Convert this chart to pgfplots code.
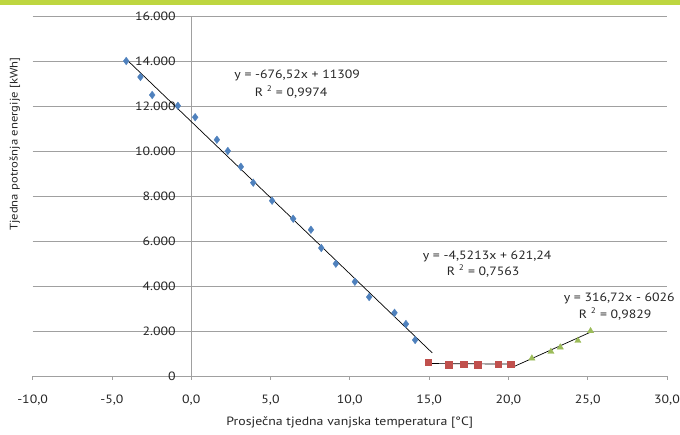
\documentclass[border=0pt]{standalone}
\usepackage{pgfplots}
\pgfplotsset{compat=1.18}
\usepackage{fontspec}
\setmainfont{PT Sans}[FakeStretch=1.15]
\definecolor{topgreen}{RGB}{190,214,64}
\definecolor{xblue}{RGB}{79,129,189}
\definecolor{xred}{RGB}{192,80,77}
\definecolor{xgreen}{RGB}{155,187,89}
\definecolor{gridgray}{RGB}{160,160,160}
\begin{document}
\begin{tikzpicture}[font=\fontsize{12}{14}\selectfont]
\path[use as bounding box] (-32.6pt,-59pt) rectangle (647.4pt,376pt);
\fill[topgreen] (-32.6pt,371pt) rectangle (647.4pt,376pt);
\begin{axis}[
  at={(0,0)}, anchor=south west,
  scale only axis, width=634.4pt, height=360pt,
  xmin=-10, xmax=30, ymin=0, ymax=16000,
  axis x line=bottom, axis y line=left,
  axis line style={gridgray,-, line width=0.8pt},
  y axis line style={draw=none},
  xtick={-10,-5,...,30}, ytick={0,2000,...,16000},
  scaled y ticks=false, scaled x ticks=false,
  ymajorgrids, major grid style={gridgray, line width=0.8pt},
  extra x ticks={0}, extra x tick labels={},
  extra x tick style={grid=major, major grid style={gridgray, line width=0.8pt}},
  tick align=outside, major tick length=4pt,
  x tick style={gridgray, line width=0.8pt},
  y tick style={draw=none},
  /pgf/number format/assume math mode=true,
  ticklabel style={font=\fontsize{12}{14}\selectfont, text=black!85},
  xticklabel style={yshift=-11pt, /pgf/number format/fixed, /pgf/number format/fixed zerofill, /pgf/number format/precision=1, /pgf/number format/use comma, /pgf/number format/1000 sep={}},
  yticklabel style={xshift=150.6pt, /pgf/number format/fixed, /pgf/number format/precision=0, /pgf/number format/1000 sep={.}},
  xlabel={Prosječna tjedna vanjska temperatura [°C]},
  ylabel={Tjedna potrošnja energije [kWh]},
  xlabel style={at={(axis description cs:0.5,-0.128)}, anchor=center, text=black!85},
  ylabel style={at={(axis description cs:-0.028,0.644)}, anchor=center, font=\fontsize{11}{13}\selectfont, text=black!85},
  clip=false,
]
\addplot[only marks, mark=diamond*, mark size=3.8pt, color=xblue] coordinates {
(-4.1,14000) (-3.2,13290) (-2.46,12490) (-0.84,12010) (0.25,11500) (1.62,10500)
(2.31,10000) (3.13,9300) (3.91,8590) (5.1,7790) (6.43,6990) (7.55,6500)
(8.2,5690) (9.12,4990) (10.32,4190) (11.22,3510) (12.82,2810) (13.54,2310) (14.12,1600)
};
\addplot[only marks, mark=square*, mark size=3.3pt, color=xred] coordinates {
(14.94,608) (16.25,489) (17.17,533) (18.05,489) (19.36,533) (20.16,533)
};
\addplot[only marks, mark=triangle*, mark size=3.6pt, color=xgreen] coordinates {
(21.48,786) (22.68,1080) (23.27,1275) (24.38,1570) (25.18,2000)
};
\addplot[black, line width=0.7pt] coordinates {(-4.1,14083) (15.2,1026)};
\addplot[black, line width=0.7pt] coordinates {(14.94,554) (20.16,530)};
\addplot[black, line width=0.7pt] coordinates {(20.35,419) (25.2,1955)};
\node[text=black!85] at (axis cs:6.68,13378) {y = -676,52x + 11309};
\node[text=black!85] at (axis cs:6.3,12620) {R \textsuperscript{2} = 0,9974};
\node[text=black!85] at (axis cs:18.66,5333) {y = -4,5213x + 621,24};
\node[text=black!85] at (axis cs:18.41,4666) {R \textsuperscript{2} = 0,7563};
\node[text=black!85] at (axis cs:26.99,3466) {y = 316,72x - 6026};
\node[text=black!85] at (axis cs:26.73,2755) {R \textsuperscript{2} = 0,9829};
\end{axis}
\end{tikzpicture}
\end{document}
